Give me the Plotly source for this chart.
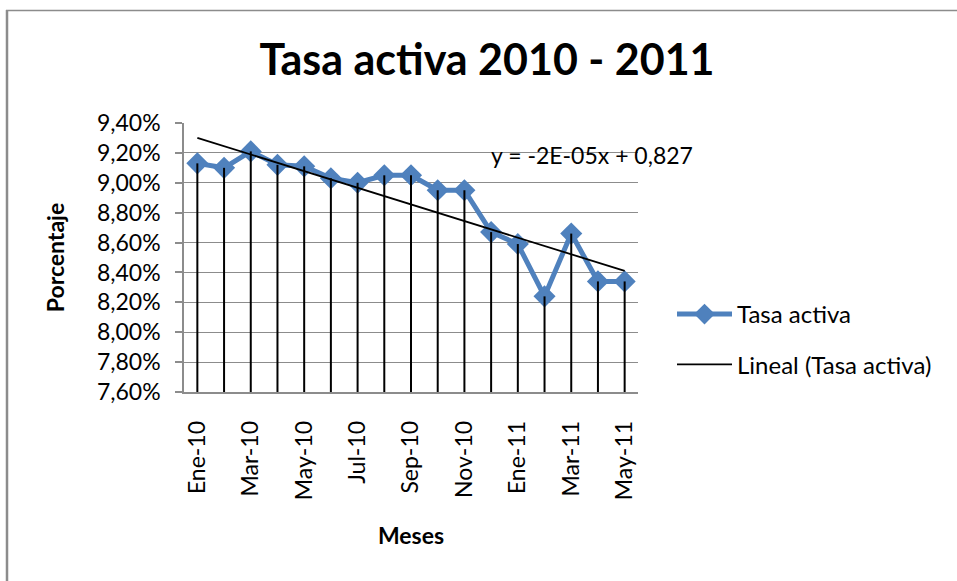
import numpy as np
import plotly.graph_objects as go

meses = ["Ene-10", "Feb-10", "Mar-10", "Abr-10", "May-10", "Jun-10", "Jul-10", "Ago-10",
         "Sep-10", "Oct-10", "Nov-10", "Dic-10", "Ene-11", "Feb-11", "Mar-11", "Abr-11", "May-11"]
tasa_activa = [9.13, 9.10, 9.21, 9.12, 9.11, 9.03, 9.00, 9.05,
               9.05, 8.95, 8.95, 8.67, 8.59, 8.24, 8.66, 8.34, 8.34]
etiquetas_x = ["Ene-10", "Mar-10", "May-10", "Jul-10", "Sep-10", "Nov-10", "Ene-11", "Mar-11", "May-11"]
y_min, y_max = 7.60, 9.40
ecuacion = "y = -2E-05x + 0,827"

FONT = "Lato, 'Open Sans', sans-serif"

# linear trendline (least squares on month index)
idx = np.arange(len(tasa_activa))
pend, inter = np.polyfit(idx, tasa_activa, 1)
tendencia = list(pend * idx + inter)

fig = go.Figure()

fig.add_trace(go.Scatter(
    x=meses, y=tasa_activa, name="Tasa activa", mode="lines+markers",
    legendgroup="a",
    line=dict(color="#4F81BD", width=5),
    marker=dict(symbol="diamond", size=17, color="#4F81BD"),
))

# drop lines from each point to the axis floor
fig.add_trace(go.Scatter(
    x=meses, y=tasa_activa, mode="markers", showlegend=False, hoverinfo="skip",
    marker=dict(size=1, opacity=0),
    error_y=dict(type="data", symmetric=False, array=[0] * len(tasa_activa),
                 arrayminus=[v - y_min for v in tasa_activa],
                 color="black", thickness=2, width=0),
))

fig.add_trace(go.Scatter(
    x=meses, y=tendencia, name="Lineal (Tasa activa)", mode="lines",
    legendgroup="b",
    line=dict(color="black", width=1.8),
))

L, R, T, B = 184, 319, 123, 189
W, H = 957, 581
pw = W - L - R
ph = H - T - B

def px(x):
    return (x - L) / pw

def py(y):
    return (H - B - y) / ph

fig.update_layout(
    width=W, height=H,
    margin=dict(l=L, r=R, t=T, b=B),
    paper_bgcolor="white", plot_bgcolor="white",
    separators=",.",
    font=dict(family=FONT, color="black", size=23),
    title=dict(text="<b>Tasa activa 2010 - 2011</b>", xref="container", x=487 / W, xanchor="center",
               yref="container", y=1 - 60 / H, yanchor="middle", font=dict(size=43, family=FONT)),
    xaxis=dict(
        type="category", tickmode="array", tickvals=etiquetas_x, ticktext=etiquetas_x,
        tickangle=-90, ticks="", ticklabelstandoff=18,
        showgrid=False, showline=True, linecolor="#8C8C8C", linewidth=1.5,
        range=[-0.5, len(meses) - 0.5],
        tickfont=dict(size=23),
        title=dict(text="<b>Meses</b>", font=dict(size=23), standoff=29),
    ),
    yaxis=dict(
        range=[y_min, y_max], dtick=0.2, tick0=y_min, tickformat=".2f", ticksuffix="%",
        ticks="outside", ticklen=7, tickcolor="#8C8C8C", tickwidth=1.5,
        ticklabelstandoff=10,
        showgrid=True, gridcolor="#8C8C8C", gridwidth=1.3,
        showline=True, linecolor="#8C8C8C", linewidth=1.5,
        zeroline=False, tickfont=dict(size=23),
        title=dict(text="<b>Porcentaje</b>", font=dict(size=23), standoff=26),
    ),
    legend=dict(x=px(672), y=py(292), xanchor="left", yanchor="top",
                font=dict(size=24), traceorder="grouped", tracegroupgap=16, itemwidth=55,
                bgcolor="rgba(0,0,0,0)"),
    annotations=[dict(text=ecuacion, xref="paper", yref="paper", x=px(489), y=py(155),
                      xanchor="left", yanchor="middle", showarrow=False,
                      font=dict(size=23, family=FONT))],
    shapes=[
        dict(type="line", xref="paper", yref="paper", x0=px(7), x1=px(7), y0=py(10), y1=py(600),
             line=dict(color="#8C8C8C", width=2.5)),
        dict(type="line", xref="paper", yref="paper", x0=px(6), x1=px(1000), y0=py(10.5), y1=py(10.5),
             line=dict(color="#8C8C8C", width=1.5)),
    ],
)

fig.write_html("out.html", config={"displayModeBar": False},
               post_script="document.body.style.margin='0';document.body.style.overflow='hidden';")
